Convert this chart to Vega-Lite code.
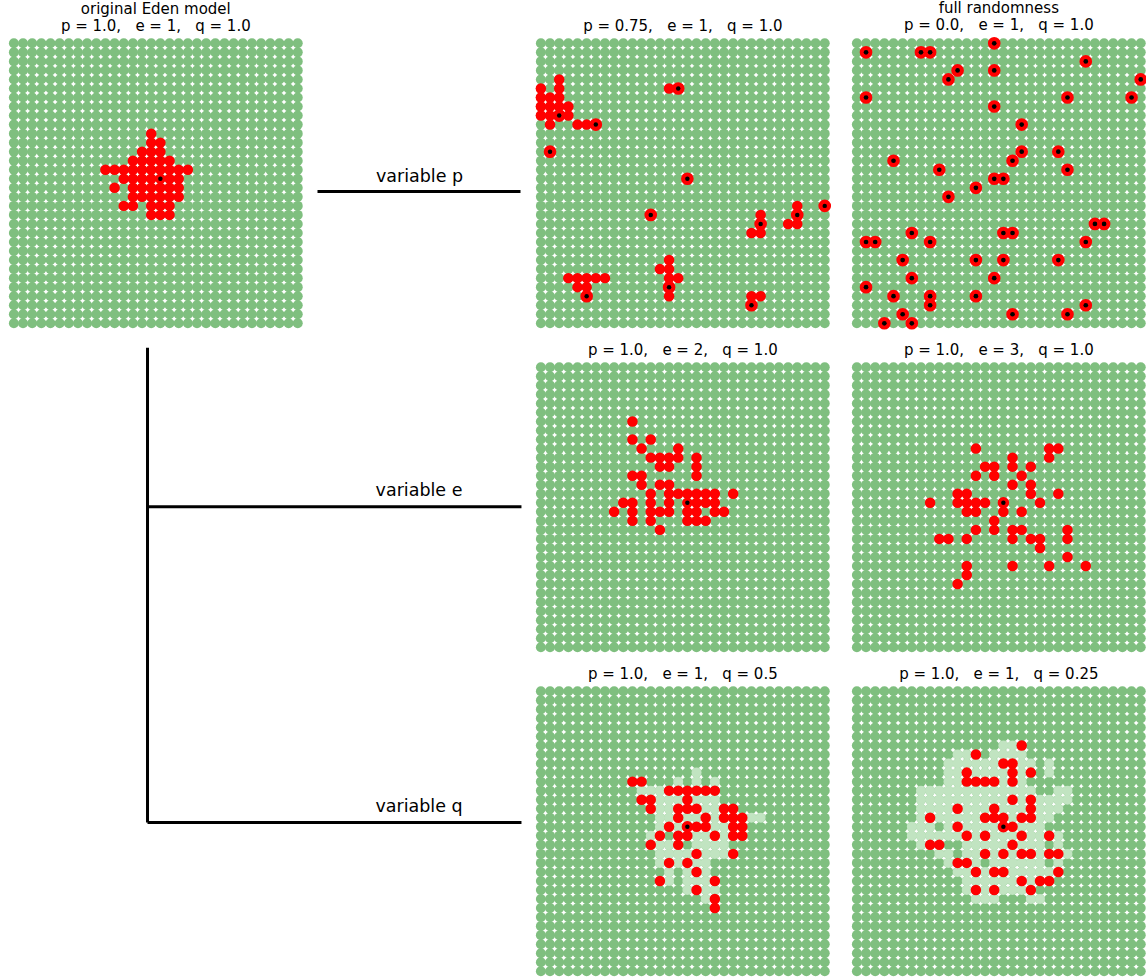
{
  "$schema": "https://vega.github.io/schema/vega-lite/v6.json",
  "padding": {"left": 8.3, "top": 0.8, "right": 0, "bottom": 0},
  "background": "white",
  "config": {
    "view": {"stroke": null},
    "title": {"font": "DejaVu Sans", "fontSize": 15, "fontWeight": "normal", "color": "#000000", "anchor": "middle", "baseline": "bottom", "offset": 4, "lineHeight": 17}
  },
  "datasets": {
    "grid": [{"c": [0,1,2,3,4,5,6,7,8,9,10,11,12,13,14,15,16,17,18,19,20,21,22,23,24,25,26,27,28,29,30,31], "r": [0,1,2,3,4,5,6,7,8,9,10,11,12,13,14,15,16,17,18,19,20,21,22,23,24,25,26,27,28,29,30,31]}],
    "red": [
      {"panel": "orig", "r": 10, "c": [15]},
      {"panel": "orig", "r": 11, "c": [15,16]},
      {"panel": "orig", "r": 12, "c": [14,15,16]},
      {"panel": "orig", "r": 13, "c": [13,14,15,16,17]},
      {"panel": "orig", "r": 14, "c": [10,11,12,13,14,15,16,17,18,19]},
      {"panel": "orig", "r": 15, "c": [12,13,14,15,16,17,18]},
      {"panel": "orig", "r": 16, "c": [11,13,14,15,16,17,18]},
      {"panel": "orig", "r": 17, "c": [13,14,15,16,17,18]},
      {"panel": "orig", "r": 18, "c": [12,13,15,16,17]},
      {"panel": "orig", "r": 19, "c": [15,16,17]},
      {"panel": "p", "r": 4, "c": [2]},
      {"panel": "p", "r": 5, "c": [0,2,14,15]},
      {"panel": "p", "r": 6, "c": [0,1,2]},
      {"panel": "p", "r": 7, "c": [0,1,2,3]},
      {"panel": "p", "r": 8, "c": [0,1,2,3]},
      {"panel": "p", "r": 9, "c": [1,4,5,6]},
      {"panel": "p", "r": 12, "c": [1]},
      {"panel": "p", "r": 15, "c": [16]},
      {"panel": "p", "r": 18, "c": [28,31]},
      {"panel": "p", "r": 19, "c": [12,24,28]},
      {"panel": "p", "r": 20, "c": [24,27,28]},
      {"panel": "p", "r": 21, "c": [23,24]},
      {"panel": "p", "r": 24, "c": [14]},
      {"panel": "p", "r": 25, "c": [13,14]},
      {"panel": "p", "r": 26, "c": [3,4,5,6,7,14,15]},
      {"panel": "p", "r": 27, "c": [4,5,14]},
      {"panel": "p", "r": 28, "c": [5,14,23,24]},
      {"panel": "p", "r": 29, "c": [23]},
      {"panel": "e2", "r": 6, "c": [10]},
      {"panel": "e2", "r": 8, "c": [10,12]},
      {"panel": "e2", "r": 9, "c": [11,15]},
      {"panel": "e2", "r": 10, "c": [12,13,14,15,17]},
      {"panel": "e2", "r": 11, "c": [13,14,17]},
      {"panel": "e2", "r": 12, "c": [10,11,17]},
      {"panel": "e2", "r": 13, "c": [11,13,14]},
      {"panel": "e2", "r": 14, "c": [12,14,15,16,17,18,19,21]},
      {"panel": "e2", "r": 15, "c": [9,10,12,14,16,17,18,19]},
      {"panel": "e2", "r": 16, "c": [8,10,12,13,14,16,17,19,20]},
      {"panel": "e2", "r": 17, "c": [10,12,16,17,18]},
      {"panel": "e2", "r": 18, "c": [13]},
      {"panel": "e3", "r": 9, "c": [13,21,22]},
      {"panel": "e3", "r": 10, "c": [17,21]},
      {"panel": "e3", "r": 11, "c": [14,15,17,19]},
      {"panel": "e3", "r": 12, "c": [13,15,18]},
      {"panel": "e3", "r": 13, "c": [17,19]},
      {"panel": "e3", "r": 14, "c": [11,12,19,22]},
      {"panel": "e3", "r": 15, "c": [8,11,12,13,14,16,20]},
      {"panel": "e3", "r": 16, "c": [12,13,16,18]},
      {"panel": "e3", "r": 17, "c": [15]},
      {"panel": "e3", "r": 18, "c": [13,15,17,18,23]},
      {"panel": "e3", "r": 19, "c": [9,10,12,17,19,20,23]},
      {"panel": "e3", "r": 20, "c": [20]},
      {"panel": "e3", "r": 21, "c": [23]},
      {"panel": "e3", "r": 22, "c": [12,17,21,25]},
      {"panel": "e3", "r": 23, "c": [12]},
      {"panel": "e3", "r": 24, "c": [11]},
      {"panel": "q05", "r": 10, "c": [10,11]},
      {"panel": "q05", "r": 11, "c": [14,15,16,17,18,19]},
      {"panel": "q05", "r": 12, "c": [11,12,16]},
      {"panel": "q05", "r": 13, "c": [12,15,16,17,20,21]},
      {"panel": "q05", "r": 14, "c": [15,18,20,21,22]},
      {"panel": "q05", "r": 15, "c": [14,16,17,18,21,22]},
      {"panel": "q05", "r": 16, "c": [13,15,16,19,21,22]},
      {"panel": "q05", "r": 17, "c": [12,15]},
      {"panel": "q05", "r": 18, "c": [17,21]},
      {"panel": "q05", "r": 19, "c": [14,16]},
      {"panel": "q05", "r": 20, "c": [17]},
      {"panel": "q05", "r": 21, "c": [13,19]},
      {"panel": "q05", "r": 22, "c": [17]},
      {"panel": "q05", "r": 23, "c": [19]},
      {"panel": "q05", "r": 24, "c": [19]},
      {"panel": "q025", "r": 6, "c": [18]},
      {"panel": "q025", "r": 7, "c": [13]},
      {"panel": "q025", "r": 8, "c": [16,17]},
      {"panel": "q025", "r": 9, "c": [12,17,19]},
      {"panel": "q025", "r": 10, "c": [12,13,14,15,17]},
      {"panel": "q025", "r": 12, "c": [17,19]},
      {"panel": "q025", "r": 13, "c": [11,15,19]},
      {"panel": "q025", "r": 14, "c": [8,14,15,16,18,19]},
      {"panel": "q025", "r": 15, "c": [11,16,17]},
      {"panel": "q025", "r": 16, "c": [12,14,18,21]},
      {"panel": "q025", "r": 17, "c": [8,9,17]},
      {"panel": "q025", "r": 18, "c": [14,16,18,19,21,22]},
      {"panel": "q025", "r": 19, "c": [11,12]},
      {"panel": "q025", "r": 20, "c": [13,15,16,22]},
      {"panel": "q025", "r": 21, "c": [18,20,21]},
      {"panel": "q025", "r": 22, "c": [13,15,19]}
    ],
    "light": [
      {"panel": "q05", "r": 9, "c": [17]},
      {"panel": "q05", "r": 10, "c": [15,17,19]},
      {"panel": "q05", "r": 11, "c": [11,12,13]},
      {"panel": "q05", "r": 12, "c": [13,14,15,17,18,19]},
      {"panel": "q05", "r": 13, "c": [13,14,18,19]},
      {"panel": "q05", "r": 14, "c": [13,14,16,17,19,23,24]},
      {"panel": "q05", "r": 15, "c": [13,15,19,20]},
      {"panel": "q05", "r": 16, "c": [12,17,18,20]},
      {"panel": "q05", "r": 17, "c": [13,14,17,18,19,20]},
      {"panel": "q05", "r": 18, "c": [13,14,15,16,18,19,20]},
      {"panel": "q05", "r": 19, "c": [13,15,17,18]},
      {"panel": "q05", "r": 20, "c": [14,16,18]},
      {"panel": "q05", "r": 21, "c": [14,16,17,18]},
      {"panel": "q05", "r": 22, "c": [16,18,19]},
      {"panel": "q05", "r": 23, "c": [18]},
      {"panel": "q025", "r": 6, "c": [16,17]},
      {"panel": "q025", "r": 7, "c": [11,12,15,16,17,18]},
      {"panel": "q025", "r": 8, "c": [10,11,12,13,14,15,18,19,21]},
      {"panel": "q025", "r": 9, "c": [10,11,13,14,15,16,18,21]},
      {"panel": "q025", "r": 10, "c": [10,11,16,18]},
      {"panel": "q025", "r": 11, "c": [7,8,9,10,11,12,13,14,15,16,17,18,19,22,23]},
      {"panel": "q025", "r": 12, "c": [7,8,9,10,11,12,13,14,15,16,18,20,21,22,23]},
      {"panel": "q025", "r": 13, "c": [7,8,9,10,12,13,14,16,17,18,20,21,22]},
      {"panel": "q025", "r": 14, "c": [7,9,10,11,12,13,17,20,21]},
      {"panel": "q025", "r": 15, "c": [6,7,8,10,12,13,14,15,18,19,20]},
      {"panel": "q025", "r": 16, "c": [6,7,8,9,10,11,13,15,16,17,19,20,22]},
      {"panel": "q025", "r": 17, "c": [7,12,13,14,15,16,18,19,20,22]},
      {"panel": "q025", "r": 18, "c": [9,10,12,13,15,17,20,23]},
      {"panel": "q025", "r": 19, "c": [10,13,15,16,17,18,19,20,22]},
      {"panel": "q025", "r": 20, "c": [11,12,14,17,18,19,20,21]},
      {"panel": "q025", "r": 21, "c": [12,13,14,15,16,17,19]},
      {"panel": "q025", "r": 22, "c": [12,14,16,17,18]},
      {"panel": "q025", "r": 23, "c": [13,14,15,19,20]}
    ],
    "seed": [
      {"panel": "orig", "r": 15, "c": [16]},
      {"panel": "e2", "r": 15, "c": [16]},
      {"panel": "e3", "r": 15, "c": [16]},
      {"panel": "q05", "r": 15, "c": [16]},
      {"panel": "q025", "r": 15, "c": [16]},
      {"panel": "p", "r": 5, "c": [15]},
      {"panel": "p", "r": 8, "c": [2]},
      {"panel": "p", "r": 9, "c": [6]},
      {"panel": "p", "r": 12, "c": [1]},
      {"panel": "p", "r": 15, "c": [16]},
      {"panel": "p", "r": 18, "c": [31]},
      {"panel": "p", "r": 19, "c": [12,28]},
      {"panel": "p", "r": 20, "c": [24]},
      {"panel": "p", "r": 27, "c": [14]},
      {"panel": "p", "r": 28, "c": [5]},
      {"panel": "p", "r": 29, "c": [23]},
      {"panel": "rand", "r": 0, "c": [15]},
      {"panel": "rand", "r": 1, "c": [1,7,8]},
      {"panel": "rand", "r": 2, "c": [25]},
      {"panel": "rand", "r": 3, "c": [11,15]},
      {"panel": "rand", "r": 4, "c": [10,31]},
      {"panel": "rand", "r": 6, "c": [1,23,30]},
      {"panel": "rand", "r": 7, "c": [15]},
      {"panel": "rand", "r": 9, "c": [18]},
      {"panel": "rand", "r": 12, "c": [18,22]},
      {"panel": "rand", "r": 13, "c": [4,17]},
      {"panel": "rand", "r": 14, "c": [9,23]},
      {"panel": "rand", "r": 15, "c": [15,16]},
      {"panel": "rand", "r": 16, "c": [13]},
      {"panel": "rand", "r": 17, "c": [10]},
      {"panel": "rand", "r": 20, "c": [26,27]},
      {"panel": "rand", "r": 21, "c": [6,16,17]},
      {"panel": "rand", "r": 22, "c": [1,2,8,25]},
      {"panel": "rand", "r": 24, "c": [5,13,16,22]},
      {"panel": "rand", "r": 26, "c": [6,15]},
      {"panel": "rand", "r": 27, "c": [1]},
      {"panel": "rand", "r": 28, "c": [4,8,13]},
      {"panel": "rand", "r": 29, "c": [8,25]},
      {"panel": "rand", "r": 30, "c": [5,17,23]},
      {"panel": "rand", "r": 31, "c": [3,6]}
    ],
    "links": [
      {"view": "p", "x": -0.0416, "x2": 1.0405, "y": 0.5287, "y2": 0.5287},
      {"view": "e", "x": 0.4717, "x2": 0.4717, "y": -0.0519, "y2": 1.5907},
      {"view": "e", "x": 0.4717, "x2": 1.748, "y": 0.4983, "y2": 0.4983},
      {"view": "q", "x": 0.4717, "x2": 1.748, "y": 0.4696, "y2": 0.4696}
    ],
    "labels": [
      {"view": "p", "label": "variable p", "x": 0.502, "y": 0.4958},
      {"view": "e", "label": "variable e", "x": 0.4995, "y": 0.4602},
      {"view": "q", "label": "variable q", "x": 0.4995, "y": 0.4315}
    ]
  },
  "columns": 4,
  "align": "each",
  "bounds": "flush",
  "spacing": {"row": 35, "column": 23},
  "concat": [
    {
      "width": 293, "height": 289,
      "title": {"text": ["original Eden model", "p = 1.0,\u00a0\u00a0\u00a0e = 1,\u00a0\u00a0\u00a0q = 1.0"]},
      "encoding": {
        "x": {"field": "c", "type": "quantitative", "scale": {"domain": [-0.5, 31.5], "nice": false, "zero": false}, "axis": null},
        "y": {"field": "r", "type": "quantitative", "scale": {"domain": [-0.5, 31.5], "nice": false, "zero": false, "reverse": true}, "axis": null}
      },
      "layer": [
        {"data": {"name": "grid"}, "transform": [{"flatten": ["c"]}, {"flatten": ["r"]}], "mark": {"type": "circle", "size": 100, "opacity": 1, "color": "#7fbf7f"}},
        {"data": {"name": "red"}, "transform": [{"filter": "datum.panel === 'orig'"}, {"flatten": ["c"]}], "mark": {"type": "circle", "size": 110, "opacity": 1, "color": "#ff0000"}},
        {"data": {"name": "seed"}, "transform": [{"filter": "datum.panel === 'orig'"}, {"flatten": ["c"]}], "mark": {"type": "circle", "size": 20, "opacity": 1, "color": "#000000"}}
      ]
    },
    {
      "width": 187.6, "height": 289,
      "encoding": {
        "x": {"field": "x", "type": "quantitative", "scale": {"domain": [0, 1], "nice": false, "zero": false}, "axis": null},
        "y": {"field": "y", "type": "quantitative", "scale": {"domain": [0, 1], "nice": false, "zero": false, "reverse": true}, "axis": null}
      },
      "layer": [
        {"data": {"name": "links"}, "transform": [{"filter": "datum.view === 'p'"}], "mark": {"type": "rule", "strokeWidth": 3, "color": "#000000"}, "encoding": {"x2": {"field": "x2"}, "y2": {"field": "y2"}}},
        {"data": {"name": "labels"}, "transform": [{"filter": "datum.view === 'p'"}], "mark": {"type": "text", "font": "DejaVu Sans", "fontSize": 17.5, "align": "center", "baseline": "alphabetic", "color": "#000000"}, "encoding": {"text": {"field": "label"}}}
      ]
    },
    {
      "width": 293, "height": 289,
      "title": {"text": "p = 0.75,\u00a0\u00a0\u00a0e = 1,\u00a0\u00a0\u00a0q = 1.0"},
      "encoding": {
        "x": {"field": "c", "type": "quantitative", "scale": {"domain": [-0.5, 31.5], "nice": false, "zero": false}, "axis": null},
        "y": {"field": "r", "type": "quantitative", "scale": {"domain": [-0.5, 31.5], "nice": false, "zero": false, "reverse": true}, "axis": null}
      },
      "layer": [
        {"data": {"name": "grid"}, "transform": [{"flatten": ["c"]}, {"flatten": ["r"]}], "mark": {"type": "circle", "size": 100, "opacity": 1, "color": "#7fbf7f"}},
        {"data": {"name": "red"}, "transform": [{"filter": "datum.panel === 'p'"}, {"flatten": ["c"]}], "mark": {"type": "circle", "size": 110, "opacity": 1, "color": "#ff0000"}},
        {"data": {"name": "seed"}, "transform": [{"filter": "datum.panel === 'p'"}, {"flatten": ["c"]}], "mark": {"type": "circle", "size": 160, "opacity": 1, "color": "#ff0000"}},
        {"data": {"name": "seed"}, "transform": [{"filter": "datum.panel === 'p'"}, {"flatten": ["c"]}], "mark": {"type": "circle", "size": 20, "opacity": 1, "color": "#000000"}}
      ]
    },
    {
      "width": 293, "height": 289,
      "title": {"text": ["full randomness", "p = 0.0,\u00a0\u00a0\u00a0e = 1,\u00a0\u00a0\u00a0q = 1.0"]},
      "encoding": {
        "x": {"field": "c", "type": "quantitative", "scale": {"domain": [-0.5, 31.5], "nice": false, "zero": false}, "axis": null},
        "y": {"field": "r", "type": "quantitative", "scale": {"domain": [-0.5, 31.5], "nice": false, "zero": false, "reverse": true}, "axis": null}
      },
      "layer": [
        {"data": {"name": "grid"}, "transform": [{"flatten": ["c"]}, {"flatten": ["r"]}], "mark": {"type": "circle", "size": 100, "opacity": 1, "color": "#7fbf7f"}},
        {"data": {"name": "seed"}, "transform": [{"filter": "datum.panel === 'rand'"}, {"flatten": ["c"]}], "mark": {"type": "circle", "size": 160, "opacity": 1, "color": "#ff0000"}},
        {"data": {"name": "seed"}, "transform": [{"filter": "datum.panel === 'rand'"}, {"flatten": ["c"]}], "mark": {"type": "circle", "size": 22, "opacity": 1, "color": "#000000"}}
      ]
    },
    {
      "width": 293, "height": 289,
      "encoding": {
        "x": {"field": "x", "type": "quantitative", "scale": {"domain": [0, 1], "nice": false, "zero": false}, "axis": null},
        "y": {"field": "y", "type": "quantitative", "scale": {"domain": [0, 1], "nice": false, "zero": false, "reverse": true}, "axis": null}
      },
      "layer": [
        {"data": {"name": "links"}, "transform": [{"filter": "datum.view === 'e'"}], "mark": {"type": "rule", "strokeWidth": 3, "color": "#000000"}, "encoding": {"x2": {"field": "x2"}, "y2": {"field": "y2"}}}
      ]
    },
    {
      "width": 187.6, "height": 289,
      "encoding": {
        "x": {"field": "x", "type": "quantitative", "scale": {"domain": [0, 1], "nice": false, "zero": false}, "axis": null},
        "y": {"field": "y", "type": "quantitative", "scale": {"domain": [0, 1], "nice": false, "zero": false, "reverse": true}, "axis": null}
      },
      "layer": [
        {"data": {"name": "labels"}, "transform": [{"filter": "datum.view === 'e'"}], "mark": {"type": "text", "font": "DejaVu Sans", "fontSize": 17.5, "align": "center", "baseline": "alphabetic", "color": "#000000"}, "encoding": {"text": {"field": "label"}}}
      ]
    },
    {
      "width": 293, "height": 289,
      "title": {"text": "p = 1.0,\u00a0\u00a0\u00a0e = 2,\u00a0\u00a0\u00a0q = 1.0"},
      "encoding": {
        "x": {"field": "c", "type": "quantitative", "scale": {"domain": [-0.5, 31.5], "nice": false, "zero": false}, "axis": null},
        "y": {"field": "r", "type": "quantitative", "scale": {"domain": [-0.5, 31.5], "nice": false, "zero": false, "reverse": true}, "axis": null}
      },
      "layer": [
        {"data": {"name": "grid"}, "transform": [{"flatten": ["c"]}, {"flatten": ["r"]}], "mark": {"type": "circle", "size": 100, "opacity": 1, "color": "#7fbf7f"}},
        {"data": {"name": "red"}, "transform": [{"filter": "datum.panel === 'e2'"}, {"flatten": ["c"]}], "mark": {"type": "circle", "size": 110, "opacity": 1, "color": "#ff0000"}},
        {"data": {"name": "seed"}, "transform": [{"filter": "datum.panel === 'e2'"}, {"flatten": ["c"]}], "mark": {"type": "circle", "size": 20, "opacity": 1, "color": "#000000"}}
      ]
    },
    {
      "width": 293, "height": 289,
      "title": {"text": "p = 1.0,\u00a0\u00a0\u00a0e = 3,\u00a0\u00a0\u00a0q = 1.0"},
      "encoding": {
        "x": {"field": "c", "type": "quantitative", "scale": {"domain": [-0.5, 31.5], "nice": false, "zero": false}, "axis": null},
        "y": {"field": "r", "type": "quantitative", "scale": {"domain": [-0.5, 31.5], "nice": false, "zero": false, "reverse": true}, "axis": null}
      },
      "layer": [
        {"data": {"name": "grid"}, "transform": [{"flatten": ["c"]}, {"flatten": ["r"]}], "mark": {"type": "circle", "size": 100, "opacity": 1, "color": "#7fbf7f"}},
        {"data": {"name": "red"}, "transform": [{"filter": "datum.panel === 'e3'"}, {"flatten": ["c"]}], "mark": {"type": "circle", "size": 110, "opacity": 1, "color": "#ff0000"}},
        {"data": {"name": "seed"}, "transform": [{"filter": "datum.panel === 'e3'"}, {"flatten": ["c"]}], "mark": {"type": "circle", "size": 130, "opacity": 1, "color": "#ff0000"}},
        {"data": {"name": "seed"}, "transform": [{"filter": "datum.panel === 'e3'"}, {"flatten": ["c"]}], "mark": {"type": "circle", "size": 20, "opacity": 1, "color": "#000000"}}
      ]
    },
    {
      "width": 293, "height": 289,
      "encoding": {
        "x": {"field": "x", "type": "quantitative", "scale": {"domain": [0, 1], "nice": false, "zero": false}, "axis": null},
        "y": {"field": "y", "type": "quantitative", "scale": {"domain": [0, 1], "nice": false, "zero": false, "reverse": true}, "axis": null}
      },
      "layer": [
        {"data": {"name": "links"}, "transform": [{"filter": "datum.view === 'q'"}], "mark": {"type": "rule", "strokeWidth": 3, "color": "#000000"}, "encoding": {"x2": {"field": "x2"}, "y2": {"field": "y2"}}}
      ]
    },
    {
      "width": 187.6, "height": 289,
      "encoding": {
        "x": {"field": "x", "type": "quantitative", "scale": {"domain": [0, 1], "nice": false, "zero": false}, "axis": null},
        "y": {"field": "y", "type": "quantitative", "scale": {"domain": [0, 1], "nice": false, "zero": false, "reverse": true}, "axis": null}
      },
      "layer": [
        {"data": {"name": "labels"}, "transform": [{"filter": "datum.view === 'q'"}], "mark": {"type": "text", "font": "DejaVu Sans", "fontSize": 17.5, "align": "center", "baseline": "alphabetic", "color": "#000000"}, "encoding": {"text": {"field": "label"}}}
      ]
    },
    {
      "width": 293, "height": 289,
      "title": {"text": "p = 1.0,\u00a0\u00a0\u00a0e = 1,\u00a0\u00a0\u00a0q = 0.5"},
      "encoding": {
        "x": {"field": "c", "type": "quantitative", "scale": {"domain": [-0.5, 31.5], "nice": false, "zero": false}, "axis": null},
        "y": {"field": "r", "type": "quantitative", "scale": {"domain": [-0.5, 31.5], "nice": false, "zero": false, "reverse": true}, "axis": null}
      },
      "layer": [
        {"data": {"name": "grid"}, "transform": [{"flatten": ["c"]}, {"flatten": ["r"]}], "mark": {"type": "circle", "size": 100, "opacity": 1, "color": "#7fbf7f"}},
        {"data": {"name": "light"}, "transform": [{"filter": "datum.panel === 'q05'"}, {"flatten": ["c"]}], "mark": {"type": "circle", "size": 100, "opacity": 1, "color": "#c1e4c1"}},
        {"data": {"name": "red"}, "transform": [{"filter": "datum.panel === 'q05'"}, {"flatten": ["c"]}], "mark": {"type": "circle", "size": 110, "opacity": 1, "color": "#ff0000"}},
        {"data": {"name": "seed"}, "transform": [{"filter": "datum.panel === 'q05'"}, {"flatten": ["c"]}], "mark": {"type": "circle", "size": 130, "opacity": 1, "color": "#ff0000"}},
        {"data": {"name": "seed"}, "transform": [{"filter": "datum.panel === 'q05'"}, {"flatten": ["c"]}], "mark": {"type": "circle", "size": 20, "opacity": 1, "color": "#000000"}}
      ]
    },
    {
      "width": 293, "height": 289,
      "title": {"text": "p = 1.0,\u00a0\u00a0\u00a0e = 1,\u00a0\u00a0\u00a0q = 0.25"},
      "encoding": {
        "x": {"field": "c", "type": "quantitative", "scale": {"domain": [-0.5, 31.5], "nice": false, "zero": false}, "axis": null},
        "y": {"field": "r", "type": "quantitative", "scale": {"domain": [-0.5, 31.5], "nice": false, "zero": false, "reverse": true}, "axis": null}
      },
      "layer": [
        {"data": {"name": "grid"}, "transform": [{"flatten": ["c"]}, {"flatten": ["r"]}], "mark": {"type": "circle", "size": 100, "opacity": 1, "color": "#7fbf7f"}},
        {"data": {"name": "light"}, "transform": [{"filter": "datum.panel === 'q025'"}, {"flatten": ["c"]}], "mark": {"type": "circle", "size": 100, "opacity": 1, "color": "#c1e4c1"}},
        {"data": {"name": "red"}, "transform": [{"filter": "datum.panel === 'q025'"}, {"flatten": ["c"]}], "mark": {"type": "circle", "size": 110, "opacity": 1, "color": "#ff0000"}},
        {"data": {"name": "seed"}, "transform": [{"filter": "datum.panel === 'q025'"}, {"flatten": ["c"]}], "mark": {"type": "circle", "size": 130, "opacity": 1, "color": "#ff0000"}},
        {"data": {"name": "seed"}, "transform": [{"filter": "datum.panel === 'q025'"}, {"flatten": ["c"]}], "mark": {"type": "circle", "size": 20, "opacity": 1, "color": "#000000"}}
      ]
    }
  ]
}
